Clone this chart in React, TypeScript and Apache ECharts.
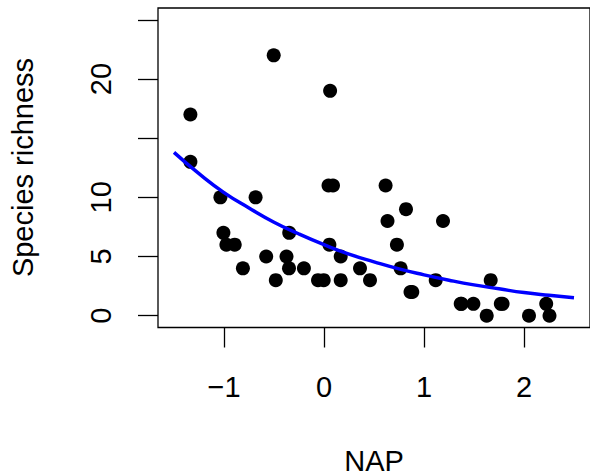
import React, { useEffect, useRef } from "react";
import * as echarts from "echarts";

const napValues = [
  -1.336, -1.336, -0.503, 0.061, -1.036, -0.684, 0.045, 0.09, 0.616, -1.006,
  -0.976, -0.893, -0.811, -0.578, -0.482, -0.375, -0.348, -0.35, -0.201, -0.06,
  -0.003, 0.054, 0.167, 0.167, 0.36, 0.46, 0.82, 0.635, 1.19, 0.729,
  0.766, 0.865, 0.883, 1.117, 1.367, 1.375, 1.494, 1.667, 1.627, 1.768,
  1.786, 2.05, 2.222, 2.255,
];
const richnessValues = [
  17, 13, 22, 19, 10, 10, 11, 11, 11, 7,
  6, 6, 4, 5, 3, 5, 7, 4, 4, 3,
  3, 6, 5, 3, 4, 3, 9, 8, 8, 6,
  4, 2, 2, 3, 1, 1, 1, 3, 0, 1,
  1, 0, 1, 0,
];
const fitNap = [-1.5, -1.25, -1, -0.75, -0.5, -0.25, 0, 0.25, 0.5, 0.75, 1, 1.25, 1.5, 1.75, 2, 2.25, 2.5];
const fitRichness = [13.8, 12.0, 10.4, 9.1, 7.9, 6.9, 6.0, 5.2, 4.55, 3.95, 3.45, 3.0, 2.6, 2.27, 1.95, 1.72, 1.52];
const xTicks = [-1, 0, 1, 2];
const yTicks = [0, 5, 10, 15, 20, 25];
const yLabels = [0, 5, 10, 20];

const FONT = "Liberation Sans, Arial, Helvetica, sans-serif";

export default function App() {
  const ref = useRef<HTMLDivElement>(null);
  useEffect(() => {
    if (!ref.current) return;
    const chart = echarts.init(ref.current, undefined, { renderer: "svg" });
    const points = napValues.map((x, i) => [x, richnessValues[i]]);
    const fit = fitNap.map((x, i) => [x, fitRichness[i]]);
    chart.setOption({
      animation: false,
      backgroundColor: "#ffffff",
      grid: {
        show: true,
        left: 158,
        top: 8,
        width: 433,
        height: 319.5,
        borderColor: "#000",
        borderWidth: 1.3,
        backgroundColor: "transparent",
      },
      xAxis: {
        type: "value",
        min: -1.66,
        max: 2.66,
        axisLine: { show: false, onZero: false },
        splitLine: { show: false },
        axisTick: {
          show: true,
          customValues: xTicks,
          length: 20,
          lineStyle: { color: "#000", width: 1.3 },
        },
        axisLabel: {
          customValues: xTicks,
          margin: 45,
          fontSize: 29,
          fontFamily: FONT,
          color: "#000",
          formatter: (v: number) => (v < 0 ? "\u2212" + Math.abs(v) : String(v)),
        },
      },
      yAxis: {
        type: "value",
        min: -1,
        max: 26,
        axisLine: { show: false, onZero: false },
        splitLine: { show: false },
        axisTick: {
          show: true,
          customValues: yTicks,
          length: 20,
          lineStyle: { color: "#000", width: 1.3 },
        },
        axisLabel: {
          customValues: yLabels,
          rotate: 90,
          margin: 43,
          fontSize: 29,
          fontFamily: FONT,
          color: "#000",
        },
      },
      graphic: [
        {
          type: "text",
          x: 22.5,
          y: 167.5,
          rotation: Math.PI / 2,
          style: {
            text: "Species richness",
            fontSize: 29,
            fontFamily: FONT,
            fill: "#000",
            align: "center",
            verticalAlign: "middle",
          },
        },
        {
          type: "text",
          x: 374,
          y: 461,
          style: {
            text: "NAP",
            fontSize: 29,
            fontFamily: FONT,
            fill: "#000",
            align: "center",
            verticalAlign: "middle",
          },
        },
      ],
      series: [
        {
          type: "scatter",
          data: points,
          symbol: "circle",
          symbolSize: 14,
          itemStyle: { color: "#000", opacity: 1 },
          silent: true,
        },
        {
          type: "line",
          data: fit,
          smooth: true,
          showSymbol: false,
          lineStyle: { color: "#0000ff", width: 3.5 },
          silent: true,
          z: 3,
        },
      ],
    });
    return () => chart.dispose();
  }, []);
  return (
    <div
      ref={ref}
      style={{ position: "fixed", left: 0, top: 0, width: 590, height: 476, background: "#fff" }}
    />
  );
}
